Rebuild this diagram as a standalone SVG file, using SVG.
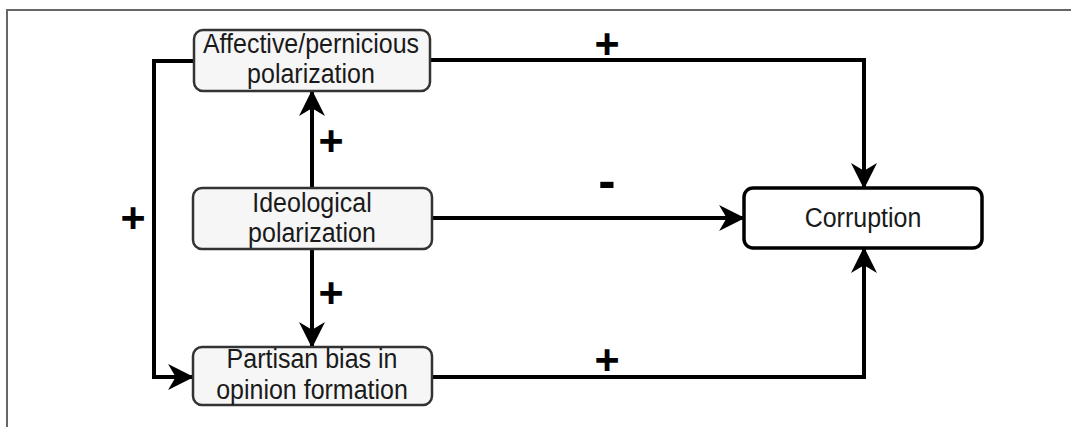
<svg xmlns="http://www.w3.org/2000/svg" width="1071" height="427" viewBox="0 0 1071 427">
  <style>
    .box { fill: #f6f6f6; stroke: #333333; stroke-width: 2.5; }
    .box2 { fill: #ffffff; stroke: #000000; stroke-width: 3.5; }
    .lbl { font-family: "Liberation Sans", Arial, sans-serif; font-size: 25px; fill: #1a1a1a; text-anchor: middle; }
    .sign { font-family: "Liberation Sans", Arial, sans-serif; font-size: 43px; font-weight: bold; fill: #000; text-anchor: middle; }
    .conn { fill: none; stroke: #000; stroke-width: 4; }
  </style>
  <defs>
    <marker id="arr" markerUnits="userSpaceOnUse" markerWidth="26" markerHeight="26" viewBox="0 0 24 24" refX="23" refY="12" orient="auto">
      <path d="M0,0 L24,12 L0,24 L7,12 Z" fill="#000"/>
    </marker>
  </defs>
  <rect width="1071" height="427" fill="#ffffff"/>
  <path d="M7,427 V10 H1071" fill="none" stroke="#666666" stroke-width="2"/>

  <g id="connectors">
    <path class="conn" d="M430,60 H864 V188" marker-end="url(#arr)"/>
    <path class="conn" d="M194,61 H154 V377 H193" marker-end="url(#arr)"/>
    <path class="conn" d="M432,218 H744" marker-end="url(#arr)"/>
    <path class="conn" d="M312,188 V91" marker-end="url(#arr)"/>
    <path class="conn" d="M312,249 V347" marker-end="url(#arr)"/>
    <path class="conn" d="M432,377 H864 V248" marker-end="url(#arr)"/>
    <text class="sign" x="607" y="58">+</text>
    <text class="sign" x="331" y="155">+</text>
    <text class="sign" x="607" y="198" style="font-size:52px">-</text>
    <text class="sign" x="133" y="232">+</text>
    <text class="sign" x="331" y="307">+</text>
    <text class="sign" x="607" y="374">+</text>
  </g>

  <g id="affective">
    <rect class="box" x="194" y="30" width="236" height="61" rx="9"/>
    <text class="lbl" transform="translate(311,53) scale(1,1.12)">Affective/pernicious</text>
    <text class="lbl" transform="translate(311,83) scale(1,1.12)">polarization</text>
  </g>
  <g id="ideological">
    <rect class="box" x="193" y="188" width="239" height="61" rx="9"/>
    <text class="lbl" transform="translate(312,212) scale(1,1.12)">Ideological</text>
    <text class="lbl" transform="translate(312,242) scale(1,1.12)">polarization</text>
  </g>
  <g id="partisan">
    <rect class="box" x="193" y="347" width="239" height="58" rx="9"/>
    <text class="lbl" transform="translate(312,368) scale(1,1.12)">Partisan bias in</text>
    <text class="lbl" transform="translate(312,399) scale(1,1.12)">opinion formation</text>
  </g>
  <g id="corruption">
    <rect class="box2" x="744" y="188" width="238" height="60" rx="9"/>
    <text class="lbl" transform="translate(863,227) scale(1,1.12)">Corruption</text>
  </g>
</svg>
